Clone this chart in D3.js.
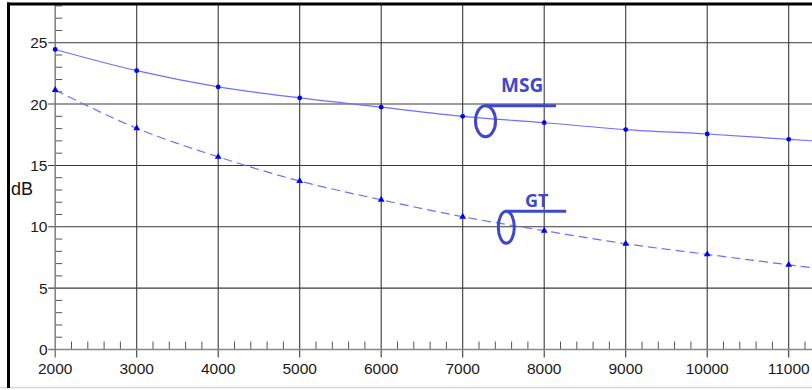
<!DOCTYPE html>
<html><head><meta charset="utf-8">
<script src="https://cdn.jsdelivr.net/npm/d3@7"></script>
<style>html,body{margin:0;padding:0;background:#fff;overflow:hidden}</style>
</head><body>
<script>
const freqs = [2000, 3000, 4000, 5000, 6000, 7000, 8000, 9000, 10000, 11000, 12000];
const msg   = [24.45, 22.72, 21.4, 20.5, 19.75, 19.0, 18.48, 17.92, 17.56, 17.13, 16.72];
const gt    = [21.15, 18.03, 15.7, 13.73, 12.2, 10.82, 9.68, 8.62, 7.75, 6.9, 6.1];
const xTicks = [2000, 3000, 4000, 5000, 6000, 7000, 8000, 9000, 10000, 11000, 12000];
const yTicks = [0, 5, 10, 15, 20, 25];
const annotations = [{label: "MSG", series: "msg"}, {label: "GT", series: "gt"}];

const W = 812, H = 390;
const svg = d3.select("body").append("svg").attr("width", W).attr("height", H);

const x = d3.scaleLinear().domain([2000, 12000]).range([55.2, 870.2]);
const y = d3.scaleLinear().domain([0, 28]).range([349.5, 5.9]);

const ink = "#1a1a1a";
const font = "Liberation Sans, Arial, sans-serif";
// frame
svg.append("line").attr("x1", 0).attr("x2", W).attr("y1", 387.5).attr("y2", 387.5).attr("stroke", "#d8d8d8").attr("stroke-width", 1.5);

// grid
const g = svg.append("g");
g.selectAll(".vg").data(xTicks.slice(1)).join("line")
  .attr("x1", d => x(d)).attr("x2", d => x(d)).attr("y1", 4).attr("y2", y(0) + 8)
  .attr("stroke", "#3a3a3a").attr("stroke-width", 1.1);
g.selectAll(".hg").data(yTicks.slice(1)).join("line")
  .attr("x1", x(2000) - 7).attr("x2", W).attr("y1", d => y(d)).attr("y2", d => y(d))
  .attr("stroke", "#3a3a3a").attr("stroke-width", 1.1);

// minor x ticks every 200
const minorX = d3.range(2200, 12000, 200).filter(v => v % 1000 !== 0);
g.selectAll(".mx").data(minorX).join("line")
  .attr("x1", d => x(d)).attr("x2", d => x(d)).attr("y1", y(0)).attr("y2", y(0) - 8)
  .attr("stroke", "#555").attr("stroke-width", 1);
// minor y ticks every 1
const minorY = d3.range(1, 29, 1).filter(v => v % 5 !== 0);
g.selectAll(".my").data(minorY).join("line")
  .attr("x1", x(2000)).attr("x2", x(2000) + 7).attr("y1", d => y(d)).attr("y2", d => y(d))
  .attr("stroke", "#555").attr("stroke-width", 1);

// axis lines
g.append("line").attr("x1", x(2000)).attr("x2", W).attr("y1", y(0)).attr("y2", y(0)).attr("stroke", "#888").attr("stroke-width", 1.6);
g.append("line").attr("x1", x(2000)).attr("x2", x(2000)).attr("y1", 4).attr("y2", y(0) + 8).attr("stroke", "#777").attr("stroke-width", 1.4);
g.append("line").attr("x1", x(2000) - 7).attr("x2", x(2000)).attr("y1", y(0)).attr("y2", y(0)).attr("stroke", "#777").attr("stroke-width", 1.4);

// tick labels
svg.selectAll(".xl").data(xTicks.slice(0, 10)).join("text")
  .attr("x", d => x(d)).attr("y", 374).attr("text-anchor", "middle")
  .attr("font-family", font).attr("font-size", 15.5).attr("fill", ink)
  .text(d => d);
svg.selectAll(".yl").data(yTicks).join("text")
  .attr("x", 47.5).attr("y", d => y(d) + 5.5).attr("text-anchor", "end")
  .attr("font-family", font).attr("font-size", 15.5).attr("fill", ink)
  .text(d => d);
svg.append("text").attr("x", 11).attr("y", 194.5).attr("font-family", font)
  .attr("font-size", 18).attr("fill", "#111").text("dB");

// series
const line = d3.line().x((d, i) => x(freqs[i])).y(d => y(d)).curve(d3.curveMonotoneX);
svg.append("path").attr("d", line(msg)).attr("fill", "none").attr("stroke", "#6f6fff").attr("stroke-width", 1.2);
svg.append("path").attr("d", line(gt)).attr("fill", "none").attr("stroke", "#6f6fff").attr("stroke-width", 1.2).attr("stroke-dasharray", "9,5");

svg.selectAll(".mm").data(msg).join("circle")
  .attr("cx", (d, i) => x(freqs[i])).attr("cy", d => y(d)).attr("r", 2.4).attr("fill", "#0000ff");
const tri = d3.symbol().type(d3.symbolTriangle).size(20);
svg.selectAll(".gm").data(gt).join("path")
  .attr("d", tri).attr("transform", (d, i) => `translate(${x(freqs[i])},${y(d)})`).attr("fill", "#0000ff");

// left / top border
svg.append("line").attr("x1", 8.5).attr("x2", 8.5).attr("y1", 2.5).attr("y2", 388).attr("stroke", "#000").attr("stroke-width", 3);
svg.append("line").attr("x1", 7).attr("x2", W).attr("y1", 4).attr("y2", 4).attr("stroke", "#000").attr("stroke-width", 3);

// annotations (anchored to data at given frequencies)
const annColor = "#3f48cc";
const annSpec = [
  {label: annotations[0].label, data: msg, f: 7280, rx: 10, ry: 15.5, lineEnd: 8145, tx: 501, ty: 92, fs: 19},
  {label: annotations[1].label, data: gt,  f: 7535, rx: 8,  ry: 16,   lineEnd: 8270, tx: 525, ty: 207, fs: 18}
];
annSpec.forEach(a => {
  const i = d3.bisectLeft(freqs, a.f);
  const t = (a.f - freqs[i-1]) / (freqs[i] - freqs[i-1]);
  const v = a.data[i-1] + t * (a.data[i] - a.data[i-1]);
  const cx = x(a.f), cy = y(v) + 3;
  svg.append("ellipse").attr("cx", cx).attr("cy", cy).attr("rx", a.rx).attr("ry", a.ry)
    .attr("fill", "none").attr("stroke", annColor).attr("stroke-width", 3);
  svg.append("line").attr("x1", cx).attr("x2", x(a.lineEnd)).attr("y1", cy - a.ry).attr("y2", cy - a.ry)
    .attr("stroke", annColor).attr("stroke-width", 3);
  svg.append("text").attr("x", a.tx).attr("y", a.ty).attr("font-family", "Open Sans, sans-serif")
    .attr("font-weight", "bold").attr("font-size", a.fs).attr("fill", annColor).text(a.label);
});
</script>
</body></html>
